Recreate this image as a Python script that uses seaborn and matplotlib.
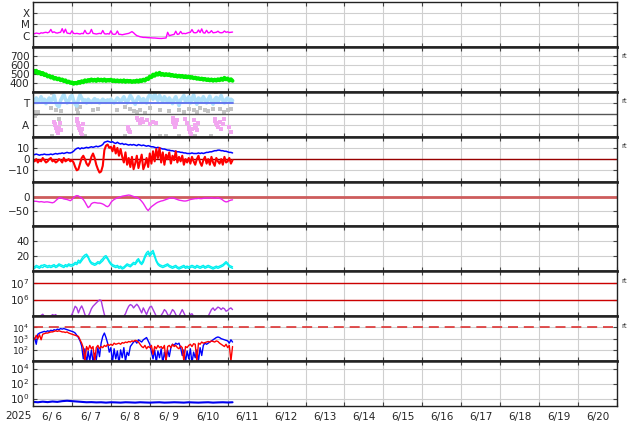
import numpy as np
import pandas as pd
import matplotlib
matplotlib.use("Agg")
import matplotlib.pyplot as plt
import matplotlib.dates as mdates
import matplotlib.ticker as mticker
import seaborn as sns

# ---------------- data (hourly from 2025-06-06 00:00) ----------------
xray_1e6 = [1.6,1.5,1.7,1.6,1.5,1.8,1.7,1.9,2.0,1.8,2.1,3.6,
            1.9,2.2,1.8,1.7,1.9,2.0,4.2,1.8,3.8,1.7,1.6,1.5,
            2.7,1.6,1.5,1.6,1.5,1.4,1.6,1.5,3.0,1.6,1.5,1.7,
            3.6,1.6,1.5,1.4,1.5,1.6,1.5,2.9,1.5,1.4,1.5,1.4,
            2.7,1.4,1.3,1.4,2.6,1.3,1.3,1.2,1.3,1.4,1.5,1.6,
            1.9,2.3,1.8,1.3,1.0,0.9,0.8,0.75,0.7,0.7,0.68,0.66,
            0.65,0.64,0.62,0.62,0.6,0.58,0.57,0.56,0.58,0.6,0.62,2.0,
            1.0,1.1,1.2,1.3,2.5,1.3,1.4,2.4,1.5,1.6,1.5,1.7,
            1.9,2.0,3.5,1.9,1.8,1.9,3.2,1.9,4.0,1.8,1.7,3.0,
            1.8,1.9,2.8,1.8,1.9,2.0,2.5,1.9,1.8,1.9,2.6,2.0,
            2.2,1.9,2.0,2.1]

speed = [540,515,535,505,520,495,510,485,495,470,480,458,
         468,445,455,438,448,428,438,418,428,405,415,398,
         405,388,400,392,410,398,418,405,428,415,432,420,
         438,422,435,420,440,425,436,422,438,420,432,424,
         436,418,430,416,428,414,426,412,428,410,424,412,
         422,408,420,410,426,412,430,418,436,424,448,440,
         470,462,492,478,505,490,512,488,500,484,498,486,
         496,478,488,474,484,468,480,466,478,462,474,460,
         470,455,465,450,458,444,452,440,448,434,444,430,
         440,426,438,422,436,424,440,428,446,432,456,438,
         448,424,440,422]

phi = [300,285,310,275,295,320,280,300,265,290,310,285,
       300,330,275,250,240,290,315,340,300,270,285,320,
       330,290,260,245,300,335,310,280,295,270,300,285,
       275,290,305,280,295,270,285,300,290,275,295,280,
       300,285,270,290,310,295,280,300,320,290,270,300,
       330,310,280,260,295,320,300,275,305,290,270,315,
       335,320,300,345,310,290,330,305,280,320,300,275,
       310,290,265,300,320,285,250,295,310,330,280,300,
       320,270,300,335,290,260,310,300,285,320,295,270,
       300,325,285,260,300,315,280,305,330,290,270,300,
       310,285,300,290]

gray_hour = [0.5,1,1.5,2,3,11,12,14,16,17,27,28,29,37,40,52,57,60,62,64,66,69,72,75,78,
             84,90,93,96,99,101,103,106,108,111,113,115,118,120,122,12,32,57,78,82,90,100,110]
gray_deg = [195,175,165,185,200,230,350,215,140,205,220,190,240,215,225,210,235,220,205,200,215,190,230,350,215,
            205,215,195,225,210,200,230,215,205,225,355,220,200,210,225,5,5,5,5,5,5,5,5]

pink_hour = [13,13.3,13.6,14,14.3,14.6,15,15.3,15.6,16,16.5,17,
             27,27.3,27.6,28,28.3,28.6,29,29.3,29.6,30,30.5,31,
             58.5,58.8,59,59.3,59.5,
             64,65,66,67,68,70,72,74,76,
             86,86.3,86.6,87,87.3,87.6,88,89,
             94,95,96,96.3,96.6,97,97.3,98,99,100,100.5,101,102,
             112,112.5,113,113.5,114,115,116,117,118,121,122]
pink_deg = [120,105,90,80,70,60,45,35,30,70,110,50,
            140,125,110,95,85,70,55,40,30,15,60,100,
            75,65,55,45,40,
            150,130,110,140,120,130,100,120,110,
            150,135,120,105,90,75,100,130,
            140,110,80,65,50,35,20,60,130,90,70,50,110,
            140,125,110,95,80,120,60,100,140,80,40]

bt = [4,4,4.5,4,3.5,4,4,4.5,4,4,4,4.5,
      4,4.5,5,4.5,5,5,5.5,5,5.5,6,5.5,5.5,
      6,7,8.5,9.5,10,9,10,9.5,10,10.5,10,10.5,
      11,10.5,11,11.5,11,11.5,12,13,15,15.5,16,15.5,
      15,15.5,14.5,14,15,14,13.5,14,13,13.5,13,12.5,
      13,12.5,13,12.5,12,13,12.5,12,12.5,12,11.5,12,
      11.5,11,11,10.5,10,10.5,10,9.5,9,9,8.5,8,
      8,7.5,7.5,7,7,6.5,6.5,6,6,5.5,5.5,5,
      5,5,5.5,5,5,5,5.5,5,5.5,5,5.5,6,
      6,6.5,6.5,7,7.5,7.5,8,8,7.5,7.5,7,7,
      6.5,6,6,5.5]

bz = [-1,-2,0,-3,-1,-2,1,-1,-3,-2,0,1,
      -2,-1,-3,-2,0,-1,-3,1,-2,-1,0,-2,
      -1,-3,-7,-10,-9,-4,1,3,0,-4,-6,-3,
      2,5,1,-5,-9,-12,-11,-6,8,12,13,10,
      11,7,12,5,10,3,9,2,-3,6,-5,1,
      -7,2,-9,-4,3,-8,-2,4,-9,-5,1,-7,
      5,-4,7,-2,9,1,10,-3,6,-5,4,0,
      6,-4,3,-1,7,-3,2,-2,3,-5,0,-3,
      1,-4,2,-2,-5,0,3,-3,-6,-1,2,-4,
      0,-5,2,-3,-6,1,-2,-4,0,-5,2,-3,
      -2,1,-4,-1]

dst = [-15,-16,-16,-17,-18,-17,-18,-19,-18,-18,-19,-20,
       -21,-19,-14,-9,-5,-4,-6,-8,-9,-10,-12,-14,
       -10,-4,1,3,2,-2,-5,-10,-18,-28,-37,-33,
       -24,-21,-20,-21,-22,-22,-23,-25,-28,-32,-34,-30,
       -20,-14,-10,-7,-5,-3,-1,1,2,3,4,5,
       4,2,0,-2,-3,-6,-10,-16,-23,-32,-41,-47,
       -40,-34,-30,-26,-22,-19,-17,-15,-14,-12,-10,-8,
       -6,-5,-5,-6,-8,-10,-12,-13,-14,-15,-15,-14,
       -12,-10,-9,-8,-7,-7,-6,-7,-7,-6,-5,-5,
       -5,-5,-4,-5,-6,-5,-4,-6,-8,-12,-16,-18,
       -17,-14,-12,-11]

cyan_a = [5,4,6,5,4,6,5,7,6,5,6,5,
          6,7,5,6,8,7,6,5,7,6,8,7,
          7,8,10,9,12,11,14,17,19,21,18,13,
          10,9,8,9,11,10,12,14,17,19,16,12,
          9,7,6,5,6,4,5,3,4,6,8,7,
          6,8,10,9,12,15,11,9,12,18,22,24,
          20,23,25,19,13,9,7,6,5,6,7,8,
          6,5,4,5,6,4,3,4,5,6,4,5,
          4,5,6,5,4,6,5,4,5,6,4,5,
          6,5,4,3,4,5,4,5,6,7,9,11,
          9,6,5,4]
cyan_b = [7,6,8,7,6,8,8,9,8,7,8,7,
          8,9,7,8,10,9,8,7,9,8,10,9,
          9,10,12,11,15,13,17,20,22,23,20,15,
          12,11,10,11,13,12,15,17,20,21,18,14,
          11,9,8,7,8,6,7,5,6,8,10,9,
          8,10,12,11,15,17,13,11,15,21,25,27,
          23,26,28,22,15,11,9,8,7,8,9,10,
          8,7,6,7,8,6,5,6,7,8,6,7,
          6,7,8,7,6,8,7,6,7,8,6,7,
          8,7,6,5,6,7,6,7,8,9,11,13,
          11,8,7,6]

electron_log = [4.8,4.85,4.9,4.85,4.95,5.05,5.12,5.0,4.9,4.85,4.9,5.0,
                5.1,5.05,5.1,4.95,4.85,4.8,4.75,4.8,4.85,4.9,4.95,5.0,
                5.1,5.35,5.6,5.5,5.2,5.45,5.62,5.4,5.1,4.95,5.0,5.2,
                5.45,5.6,5.7,5.8,5.9,5.98,5.95,5.5,5.1,4.9,4.8,4.85,
                4.8,4.85,4.9,4.8,4.85,4.9,4.85,4.9,5.0,5.15,5.4,5.6,
                5.7,5.65,5.5,5.62,5.72,5.6,5.4,5.2,5.5,5.3,5.1,5.35,
                5.55,5.6,5.4,5.2,5.0,4.9,4.95,5.05,5.2,5.4,5.3,5.1,
                5.0,5.2,5.4,5.3,5.1,4.95,5.0,5.2,5.4,5.2,5.0,4.9,
                4.95,5.1,5.15,5.0,4.9,4.85,4.9,4.95,5.0,4.9,4.85,4.9,
                5.0,5.2,5.4,5.5,5.35,5.45,5.55,5.5,5.4,5.5,5.45,5.3,
                5.35,5.45,5.5,5.4]

proton_blue_log = [3.0,3.05,2.5,3.4,3.5,3.55,3.6,3.65,3.6,3.7,3.65,3.75,
                   3.7,3.8,3.75,3.85,3.8,3.9,3.85,3.9,3.85,3.8,3.75,3.7,
                   3.65,3.6,3.5,3.3,3.1,2.8,2.35,1.2,2.1,0.8,1.9,1.0,
                   2.0,0.9,1.7,1.1,2.2,1.4,2.6,3.2,3.5,3.1,2.6,1.8,
                   2.2,0.9,2.1,1.2,1.9,0.8,2.0,1.3,2.2,1.0,1.8,1.5,
                   2.3,2.5,2.7,2.8,2.6,2.9,2.8,2.7,2.9,3.0,3.1,2.8,
                   2.5,1.8,1.2,2.0,0.9,1.9,1.3,2.1,0.8,1.8,1.1,2.0,
                   1.4,2.2,2.5,2.4,2.6,2.5,2.6,2.2,1.5,2.0,0.9,1.9,
                   1.2,2.1,0.8,1.8,1.3,2.0,1.0,2.2,1.5,2.4,2.6,2.5,
                   2.6,2.7,2.8,2.9,3.0,3.1,3.15,3.1,3.0,2.95,2.9,2.85,
                   2.8,2.6,2.9,2.7]
proton_red_log = [3.0,2.95,3.3,3.0,3.35,2.9,3.4,3.45,3.5,3.5,3.55,3.6,
                  3.6,3.65,3.7,3.65,3.7,3.65,3.6,3.6,3.55,3.6,3.5,3.45,
                  3.4,3.35,3.3,3.25,3.2,2.9,2.6,2.2,1.0,2.3,2.0,2.4,
                  2.1,2.3,1.0,2.2,2.4,2.1,2.3,2.2,2.4,2.3,2.5,2.4,
                  2.5,2.4,2.6,2.5,2.55,2.6,2.5,2.65,2.6,2.7,2.65,2.75,
                  2.7,2.8,2.75,2.85,2.8,2.7,2.5,2.3,2.2,2.4,2.1,2.3,
                  2.2,2.4,1.6,2.3,2.1,2.4,2.2,2.3,2.1,2.4,1.0,2.3,
                  2.4,2.2,2.5,2.3,2.4,2.2,2.1,2.35,2.2,1.0,2.3,2.2,
                  2.4,2.5,2.3,2.55,2.5,1.0,2.6,2.5,2.7,2.6,2.65,2.7,
                  2.75,2.7,2.8,2.75,2.7,2.8,2.75,2.6,2.5,2.4,2.3,2.5,
                  2.2,2.4,1.0,2.3]

# every 3 hours
bottom_log = [-0.45,-0.5,-0.42,-0.48,-0.4,-0.45,-0.35,-0.3,-0.35,-0.4,-0.45,-0.5,
              -0.48,-0.52,-0.5,-0.55,-0.5,-0.52,-0.55,-0.5,-0.52,-0.55,-0.5,-0.53,
              -0.55,-0.52,-0.5,-0.55,-0.53,-0.5,-0.52,-0.55,-0.5,-0.53,-0.55,-0.52,
              -0.5,-0.55,-0.52,-0.5,-0.53,-0.5]

day_labels_year = "2025"

# ---------------- figure ----------------
sns.set_style("white")
plt.rcParams['font.family'] = ['DejaVu Sans']

start = pd.Timestamp("2025-06-06")
end = pd.Timestamp("2025-06-21")
hours = pd.date_range(start, periods=len(speed), freq="h")
hours3 = pd.date_range(start, periods=len(bottom_log), freq="3h")
gray_t = start + pd.to_timedelta(gray_hour, unit="h")
pink_t = start + pd.to_timedelta(pink_hour, unit="h")

fig, axes = plt.subplots(9, 1, figsize=(6.34, 4.24), dpi=100, sharex=True)
fig.subplots_adjust(left=33/634, right=617/634, top=1-2/424, bottom=1-406/424, hspace=0)

FS = 7.5
GRID = "#cfcfcf"

def day_fmt(x, pos):
    d = mdates.num2date(x)
    return f"{d.month}/{d.day:2d}"

for i, ax in enumerate(axes):
    ax.set_xlim(start, end)
    ax.set_axisbelow(True)
    ax.grid(True, axis="both", which="major", color=GRID, lw=0.8)
    ax.tick_params(axis="both", which="major", direction="in", length=3,
                   left=True, right=True, top=True, bottom=True,
                   labelsize=FS, pad=2.5, color="#444444")
    for s in ("left", "right"):
        ax.spines[s].set_linewidth(1.0)
        ax.spines[s].set_color("#222222")
    ax.spines["top"].set_linewidth(1.0 if i == 0 else 1.8)
    ax.spines["bottom"].set_linewidth(1.0 if i == 8 else 1.8)
    ax.spines["top"].set_color("#222222")
    ax.spines["bottom"].set_color("#222222")

ax0 = axes[0]
ax0.xaxis.set_major_locator(mdates.DayLocator())
ax0.xaxis.set_major_formatter(mticker.NullFormatter())
ax0.xaxis.set_minor_locator(mdates.HourLocator(byhour=12))
ax0.xaxis.set_minor_formatter(mticker.FuncFormatter(day_fmt))
for ax in axes:
    ax.tick_params(axis="x", which="minor", length=0, labelsize=FS, pad=4)
for ax in axes[:-1]:
    ax.tick_params(axis="x", which="minor", labelbottom=False)

def logaxis(ax, lo, hi, ticks):
    ax.set_yscale("log")
    ax.set_ylim(lo, hi)
    ax.yaxis.set_major_locator(mticker.FixedLocator(ticks))
    ax.yaxis.set_minor_locator(mticker.NullLocator())

# 1 X-ray
ax = axes[0]
logaxis(ax, 1e-7, 1e-3, [1e-6, 1e-5, 1e-4])
ax.yaxis.set_major_formatter(mticker.FixedFormatter(["C", "M", "X"]))
sns.lineplot(x=hours, y=np.array(xray_1e6) * 1e-6, ax=ax, color="#ff00ff", lw=1, estimator=None)

# 2 solar wind speed
ax = axes[1]
ax.set_ylim(300, 800)
ax.set_yticks([400, 500, 600, 700])
sns.lineplot(x=hours, y=speed, ax=ax, color="#00ee00", lw=2.8, estimator=None)

# 3 IMF sector
ax = axes[2]
ax.set_ylim(0, 360)
ax.set_yticks([90, 270])
ax.set_yticklabels(["A", "T"])
ax.axhline(180, color="#555555", lw=1)
sns.lineplot(x=hours, y=phi, ax=ax, color="#aee0fa", lw=2.6, estimator=None)
sns.scatterplot(x=gray_t, y=gray_deg, ax=ax, color="#c4c4c4", s=6, marker="s", linewidth=0)
sns.scatterplot(x=pink_t, y=pink_deg, ax=ax, color="#f2a6f0", s=6, marker="s", linewidth=0)
sns.lineplot(x=[hours[0], hours[-1]], y=[272, 272], ax=ax, color="#6677ee", lw=1.4, estimator=None)

# 4 IMF Bt / Bz
ax = axes[3]
ax.set_ylim(-20, 20)
ax.set_yticks([-10, 0, 10])
ax.axhline(0, color="#990000", lw=1)
sns.lineplot(x=hours, y=bt, ax=ax, color="#0000ff", lw=1.1, estimator=None)
sns.lineplot(x=hours, y=bz, ax=ax, color="#ff0000", lw=1.5, estimator=None)

# 5 Dst
ax = axes[4]
ax.set_ylim(-100, 50)
ax.set_yticks([-50, 0])
ax.axhline(0, color="#cd5c5c", lw=2)
sns.lineplot(x=hours, y=dst, ax=ax, color="#ee22ee", lw=1, estimator=None)

# 6 cyan
ax = axes[5]
ax.set_ylim(0, 60)
ax.set_yticks([20, 40])
sns.lineplot(x=hours, y=cyan_a, ax=ax, color="#00f0f0", lw=1, estimator=None)
sns.lineplot(x=hours, y=cyan_b, ax=ax, color="#00f0f0", lw=1, estimator=None)

# 7 electrons
ax = axes[6]
logaxis(ax, 1e5, 10**7.7, [1e6, 1e7])
ax.yaxis.set_major_formatter(mticker.LogFormatterSciNotation())
ax.axhline(1e6, color="#cc0000", lw=1)
ax.axhline(1e7, color="#cc0000", lw=1)
sns.lineplot(x=hours, y=10 ** np.array(electron_log), ax=ax, color="#a83ae0", lw=1, estimator=None)

# 8 protons
ax = axes[7]
logaxis(ax, 1e1, 1e5, [1e2, 1e3, 1e4])
ax.yaxis.set_major_formatter(mticker.LogFormatterSciNotation())
ax.tick_params(axis="y", labelsize=6.6)
ax.axhline(1e4, color="#dd3333", lw=1.2, ls=(0, (6, 3.5)))
sns.lineplot(x=hours, y=10 ** np.array(proton_blue_log), ax=ax, color="#0000ff", lw=1, estimator=None)
sns.lineplot(x=hours, y=10 ** np.array(proton_red_log), ax=ax, color="#ff0000", lw=1, estimator=None)

# 9 bottom
ax = axes[8]
logaxis(ax, 1e-1, 1e5, [1e0, 1e2, 1e4])
ax.yaxis.set_major_formatter(mticker.LogFormatterSciNotation())
sns.lineplot(x=hours3, y=10 ** np.array(bottom_log), ax=ax, color="#0000ee", lw=1.5, estimator=None)

for ax in axes:
    ax.set_xlabel("")
    ax.set_ylabel("")
    if ax.get_legend():
        ax.get_legend().remove()

for idx in (1, 2, 3, 6, 7):
    axes[idx].text(1.008, 0.79, "rt", transform=axes[idx].transAxes,
                   fontsize=5, ha="left", va="center", color="#333333")

fig.text(18/634, 1 - 416/424, day_labels_year, fontsize=FS, ha="center", va="center")

fig.savefig("out.png", dpi=100)
